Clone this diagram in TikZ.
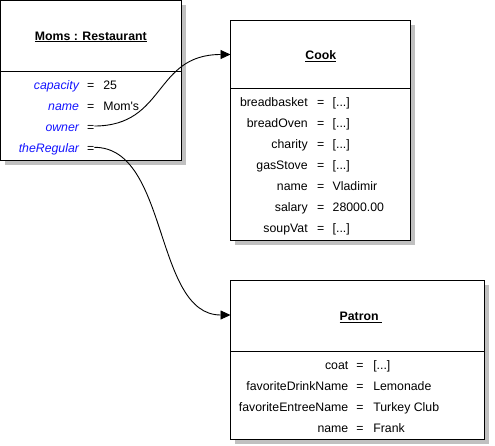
\documentclass[tikz,border=0pt]{standalone}
\usepackage{fontspec}
\setmainfont{Liberation Sans}
\usetikzlibrary{arrows.meta,calc}
\definecolor{shadowgray}{RGB}{192,192,192}
\definecolor{attrblue}{RGB}{20,20,255}
\begin{document}
\begin{tikzpicture}[x=1pt,y=-1pt,
  comp/.style={draw=black,line width=1pt,fill=white,rectangle,inner sep=0pt,outer sep=0pt,anchor=north west},
  txt/.style={inner sep=0pt,outer sep=0pt,text height=8.6pt,text depth=0pt,font=\fontsize{12.3}{14}\selectfont},
  lbl/.style={txt,anchor=east},
  blbl/.style={txt,anchor=east,text=attrblue,font=\fontsize{12.3}{14}\selectfont\itshape},
  eq/.style={txt,anchor=center},
  val/.style={txt,anchor=west},
  ttl/.style={txt,font=\fontsize{12.3}{14}\selectfont\bfseries},
  conn/.style={draw=black,line width=0.9pt,-{Triangle[length=10pt,width=9pt]}},
  shadow/.style={fill=shadowgray,draw=none}
]
\useasboundingbox (0,0) rectangle (495,445);
% shadows
\fill[shadow] (4.5,4.5) rectangle (185.5,164.5);
\fill[shadow] (234.5,24.5) rectangle (414.5,244.5);
\fill[shadow] (234.5,284.5) rectangle (488.5,443.5);
% Moms : Restaurant
\node[comp,minimum width=181pt,minimum height=71pt] (mt) at (0.5,0.5) {};
\node[comp,minimum width=181pt,minimum height=89pt] (ma) at (0.5,71.5) {};
\node[ttl] (mtt) at (90.8,35.7) {\underline{Moms : Restaurant}};
\node[blbl] (mcapl) at (79,85) {capacity};
\node[eq] (mcape) at (90.7,85) {=};
\node[val] (mcapv) at (103.3,85) {25};
\node[blbl] (mnamel) at (79,106) {name};
\node[eq] (mnamee) at (90.7,106) {=};
\node[val] (mnamev) at (103.3,106) {Mom\textquotesingle s};
\node[blbl] (mownl) at (79,127) {owner};
\node[eq] (mowne) at (90.7,127) {=};
\node[blbl] (mregl) at (79,148) {theRegular};
\node[eq] (mrege) at (90.7,148) {=};
% Cook
\node[comp,minimum width=180pt,minimum height=68pt] (ct) at (230.5,20.5) {};
\node[comp,minimum width=180pt,minimum height=152pt] (ca) at (230.5,88.5) {};
\node[ttl] (ctt) at (320.8,55) {\underline{Cook}};
\node[lbl] (c1l) at (307.7,102.4) {breadbasket};
\node[eq] (c1e) at (320.8,102.4) {=};
\node[val] (c1v) at (332.7,102.4) {[...]};
\node[lbl] (c2l) at (307.7,123.4) {breadOven};
\node[eq] (c2e) at (320.8,123.4) {=};
\node[val] (c2v) at (332.7,123.4) {[...]};
\node[lbl] (c3l) at (307.7,144.4) {charity};
\node[eq] (c3e) at (320.8,144.4) {=};
\node[val] (c3v) at (332.7,144.4) {[...]};
\node[lbl] (c4l) at (307.7,165.4) {gasStove};
\node[eq] (c4e) at (320.8,165.4) {=};
\node[val] (c4v) at (332.7,165.4) {[...]};
\node[lbl] (c5l) at (307.7,186.4) {name};
\node[eq] (c5e) at (320.8,186.4) {=};
\node[val] (c5v) at (332.7,186.4) {Vladimir};
\node[lbl] (c6l) at (307.7,207.4) {salary};
\node[eq] (c6e) at (320.8,207.4) {=};
\node[val] (c6v) at (332.7,207.4) {28000.00};
\node[lbl] (c7l) at (307.7,228.4) {soupVat};
\node[eq] (c7e) at (320.8,228.4) {=};
\node[val] (c7v) at (332.7,228.4) {[...]};
% Patron
\node[comp,minimum width=254pt,minimum height=71pt] (pt) at (230.5,280.5) {};
\node[comp,minimum width=254pt,minimum height=88pt] (pa) at (230.5,351.5) {};
\node[ttl] (ptt) at (360.8,316) {\underline{Patron\ }};
\node[lbl] (p1l) at (348.3,365) {coat};
\node[eq] (p1e) at (360,365) {=};
\node[val] (p1v) at (373.3,365) {[...]};
\node[lbl] (p2l) at (348.3,386) {favoriteDrinkName};
\node[eq] (p2e) at (360,386) {=};
\node[val] (p2v) at (373.3,386) {Lemonade};
\node[lbl] (p3l) at (348.3,407) {favoriteEntreeName};
\node[eq] (p3e) at (360,407) {=};
\node[val] (p3v) at (373.3,407) {Turkey Club};
\node[lbl] (p4l) at (348.3,428) {name};
\node[eq] (p4e) at (360,428) {=};
\node[val] (p4v) at (373.3,428) {Frank};
% connectors
\draw[conn] ($(mowne.east)+(0,-1)$) .. controls +(72,0) and +(-77,0) .. (ct.west);
\draw[conn] ($(mrege.east)+(0,-0.7)$) .. controls +(75,0) and +(-77,0) .. ($(pt.west)+(0,-1)$);
\end{tikzpicture}
\end{document}
